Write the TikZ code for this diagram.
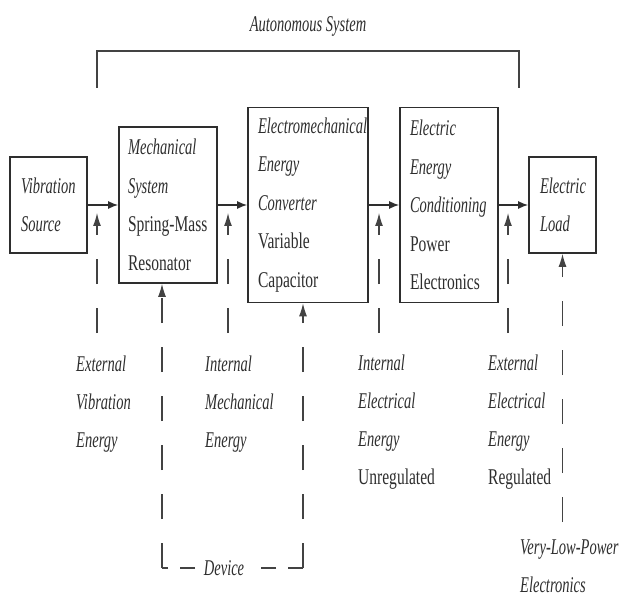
\documentclass[tikz,border=0pt]{standalone}
\usepackage{fontspec}
\setmainfont{Liberation Serif}
\newfontfamily\upfnt{Liberation Serif}[FakeStretch=0.69]
\newfontfamily\itfnt{Liberation Serif}[FakeStretch=0.645]
\newcommand\myup[1]{\mbox{\upfnt #1}}
\newcommand\myit[1]{\mbox{\itfnt\itshape #1}}
\usetikzlibrary{arrows.meta}
\definecolor{ink}{HTML}{2E2E2E}
\begin{document}
\begin{tikzpicture}[x=1pt,y=-1pt,
  box/.style={draw=ink, line width=1.7pt, rectangle, align=left, inner xsep=10pt, inner ysep=0pt, font=\fontsize{22.5}{38.5}\selectfont, text=ink},
  lbl/.style={anchor=north west, inner sep=0pt, align=left, font=\fontsize{22.5}{38}\selectfont, text=ink},
  flow/.style={draw=ink, line width=1.4pt, -{Latex[length=10pt,width=8pt]}},
  feed/.style={draw=ink!90, line width=1.2pt, dash pattern=on 25pt off 24pt, -{Latex[length=13pt,width=8pt]}},
  frame/.style={draw=ink!90, line width=1.5pt},
]
\fill[white] (0,0) rectangle (620,601);
\useasboundingbox (0,0) rectangle (620,601);

% title and bracket
\node[font=\fontsize{22.5}{24}\selectfont, text=ink] (title) at (308,26) {\myit{Autonomous System}};
\coordinate (bl) at (97,88);
\coordinate (br) at (519,88);
\draw[frame] (bl) -- (bl |- 0,51) -- (br |- 0,51) -- (br);

% blocks
\node[box, text width=55pt, inner xsep=11pt, minimum height=96pt] (src) at (48.5,205) {\myit{Vibration}\\\myit{Source}};
\node[box, text width=80pt, inner xsep=9pt, minimum height=156pt] (mech) at (168,205) {\myit{Mechanical}\\\myit{System}\\\myup{Spring-Mass}\\\myup{Resonator}};
\node[box, text width=100pt, minimum height=195pt] (conv) at (308,205) {\myit{Electromechanical}\\\myit{Energy}\\\myit{Converter}\\\myup{Variable}\\\myup{Capacitor}};
\node[box, text width=78pt, minimum height=195pt] (cond) at (449,205) {\myit{Electric}\\\myit{Energy}\\\myit{Conditioning}\\\myup{Power}\\\myup{Electronics}};
\node[box, text width=45pt, inner xsep=11pt, minimum height=96pt] (load) at (562.5,205) {\myit{Electric}\\\myit{Load}};

% energy flow
\draw[flow] (src) -- (mech);
\draw[flow] (mech) -- (conv);
\draw[flow] (conv) -- (cond);
\draw[flow] (cond) -- (load);

% energy markers
\coordinate (u1b) at (97,333);  \coordinate (u1t) at (97,213);
\coordinate (u2b) at (228,333); \coordinate (u2t) at (228,213);
\coordinate (u3b) at (379,333); \coordinate (u3t) at (379,213);
\coordinate (u4b) at (508,333); \coordinate (u4t) at (508,213);
\draw[feed] (u1b) -- (u1t);
\draw[feed] (u2b) -- (u2t);
\draw[feed] (u3b) -- (u3t);
\draw[feed] (u4b) -- (u4t);

% device bracket
\coordinate (dl) at (162,568);
\coordinate (dr) at (303,568);
\draw[feed] (dl) -- (dl |- mech.south);
\draw[feed] (dr) -- (dr |- conv.south);
\draw[draw=ink!90, line width=1.2pt, dash pattern=on 15pt off 12pt] (dr) -- node[pos=0.56, fill=white, inner xsep=5pt, font=\fontsize{22.5}{24}\selectfont, text=ink] (dev) {\myit{Device}} (dl);

% load supply
\coordinate (lb) at (562.5,522);
\draw[feed] (lb) -- (load.south);

% labels
\node[lbl] (l1) at (76,356) {\myit{External}\\\myit{Vibration}\\\myit{Energy}};
\node[lbl] (l2) at (205,356) {\myit{Internal}\\\myit{Mechanical}\\\myit{Energy}};
\node[lbl] (l3) at (358,355) {\myit{Internal}\\\myit{Electrical}\\\myit{Energy}\\\myup{Unregulated}};
\node[lbl] (l4) at (488,355) {\myit{External}\\\myit{Electrical}\\\myit{Energy}\\\myup{Regulated}};
\node[lbl] (l5) at (520,540) {\myit{Very-Low-Power}\\\myit{Electronics}};
\end{tikzpicture}
\end{document}
